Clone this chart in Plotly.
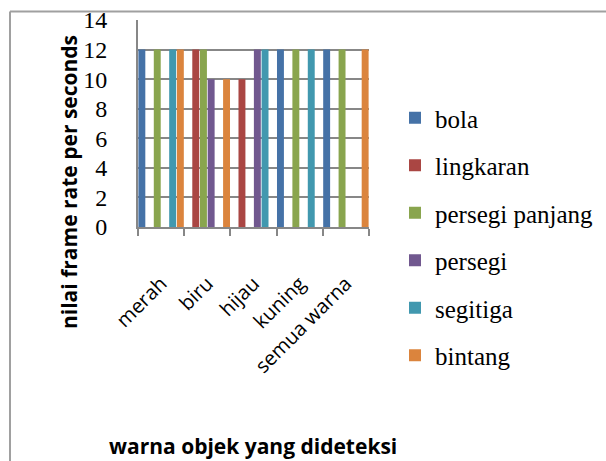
import plotly.graph_objects as go

categories = ["merah", "biru", "hijau", "kuning", "semua warna"]
series_names = ["bola", "lingkaran", "persegi panjang", "persegi", "segitiga", "bintang"]
bola = [12, 0, 0, 12, 12]
lingkaran = [0, 12, 10, 0, 0]
persegi_panjang = [12, 12, 0, 12, 12]
persegi = [0, 10, 12, 0, 0]
segitiga = [12, 0, 12, 12, 0]
bintang = [12, 10, 0, 0, 12]
y_ticks = [0, 2, 4, 6, 8, 10, 12, 14]

values = [bola, lingkaran, persegi_panjang, persegi, segitiga, bintang]
colors = ["#4572A7", "#AA4643", "#89A54E", "#71588F", "#4198AF", "#DB843D"]

W, H = 606, 461
L, R, T, B = 138, 237, 20, 234
pw, ph = W - L - R, H - T - B

def px_x(p):
    return (p - L) / pw

def px_y(p):
    return (H - B - p) / ph

fig = go.Figure()
for name, vals, col in zip(series_names, values, colors):
    fig.add_trace(go.Bar(name=name, x=categories, y=vals, marker_color=col,
                         marker_line_width=0, legendgroup=name))

grid = "#878787"
fig.update_layout(
    width=W, height=H,
    margin=dict(l=L, r=R, t=T, b=B, autoexpand=False),
    paper_bgcolor="white", plot_bgcolor="white",
    barmode="group", bargap=0.0, bargroupgap=0.1,
    showlegend=True,
    legend=dict(x=px_x(395), y=px_y(95), xanchor="left", yanchor="top",
                font=dict(family="Liberation Serif", size=25, color="black"),
                tracegroupgap=12, bgcolor="rgba(0,0,0,0)", maxheight=440),
    xaxis=dict(showgrid=False, showline=True, linecolor=grid, linewidth=2,
               ticks="outside", tickson="boundaries", ticklen=7, tickwidth=2,
               tickcolor=grid, tickangle=-45, ticklabelstandoff=35,
               tickfont=dict(family="Open Sans", size=20, color="black")),
    yaxis=dict(range=[0, 14], tickvals=y_ticks, ticktext=[str(v) for v in y_ticks],
               showgrid=True, gridcolor=grid, gridwidth=2, zeroline=False,
               showline=True, linecolor=grid, linewidth=2, ticks="",
               ticklabelstandoff=24,
               tickfont=dict(family="Liberation Serif", size=24, color="black")),
    annotations=[
        dict(text="<b>nilai frame rate per seconds</b>", xref="paper", yref="paper",
             x=px_x(69), y=px_y(182), textangle=-90, showarrow=False,
             xanchor="center", yanchor="middle",
             font=dict(family="Open Sans", size=21, color="black")),
        dict(text="<b>warna objek yang dideteksi</b>", xref="paper", yref="paper",
             x=px_x(253), y=px_y(446), showarrow=False,
             xanchor="center", yanchor="middle",
             font=dict(family="Open Sans", size=21, color="black")),
    ],
    shapes=[
        dict(type="line", xref="paper", yref="paper", x0=px_x(10), x1=px_x(606),
             y0=px_y(11.5), y1=px_y(11.5), line=dict(color="#A0A0A0", width=2)),
        dict(type="line", xref="paper", yref="paper", x0=px_x(10), x1=px_x(10),
             y0=px_y(11.5), y1=px_y(461), line=dict(color="#A0A0A0", width=2)),
    ],
)

fig.write_html("out.html", config={"displayModeBar": False},
               post_script="document.body.style.margin='0';document.body.style.overflow='hidden';")
